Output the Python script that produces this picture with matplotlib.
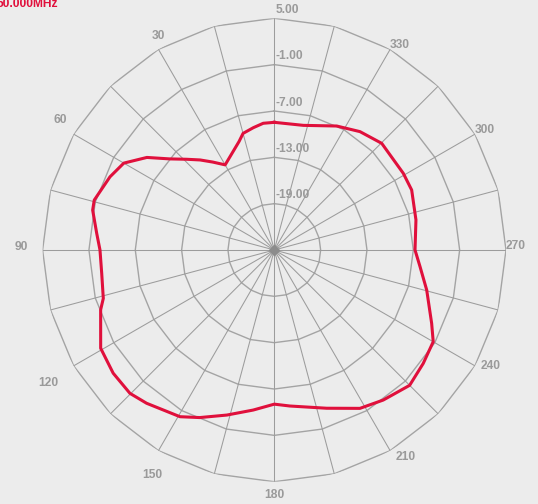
import numpy as np
import matplotlib
matplotlib.use("Agg")
import matplotlib.pyplot as plt

# ---- data ----
angles_deg = [0, 5, 9.7, 15, 18, 30, 35, 39.5, 44, 49, 54, 60, 66, 74.5, 77.6, 84.6, 90,
              97.7, 105.8, 109, 119.5, 127.4, 134.8, 140.2, 150.5, 156, 164, 172.5, 180,
              185.7, 198.3, 208.4, 216, 225, 232.7, 240, 245, 255.3, 263.5, 270,
              282, 293.6, 300.7, 314.8, 324.1, 333.3, 346.9, 360]
gain_db = [-8.47, -8.53, -8.93, -9.37, -10.23, -12.27, -11.10, -9.89, -8.67, -7.02, -4.61, -2.50,
           -1.71, -0.81, -0.92, -1.90, -2.43,
           -2.45, -1.99, -1.22, 0.83, 1.26, 1.34, 0.83, -0.20, -1.25, -2.77, -4.10, -5.04,
           -4.70, -3.42, -1.69, -0.99, -0.22, -0.76, -1.24, -2.52, -4.60, -6.01, -6.78,
           -6.25, -5.59, -5.57, -5.40, -6.08, -7.03, -8.43, -8.47]
ring_values = [-19, -13, -7, -1, 5]
ring_labels = ["-19.00", "-13.00", "-7.00", "-1.00", "5.00"]
angle_ticks = [30, 60, 90, 120, 150, 180, 210, 240, 270, 300, 330]
angle_labels = ["30", "60", "90", "120", "150", "180", "210", "240", "270", "300", "330"]
r_min, r_max = -25, 5
title = "50.000MHz"

# ---- styling ----
bg = "#ececec"
grid_c = "#a4a4a4"
label_c = "#9a9a9a"
curve_c = "#e0103c"
font = "Liberation Sans"
fs = 8.64

W, H = 538, 504
fig = plt.figure(figsize=(W / 100, H / 100), dpi=100, facecolor=bg)
cx, cy, R = 274.3, 250.0, 231.7
ax = fig.add_axes([(cx - R) / W, (H - cy - R) / H, 2 * R / W, 2 * R / H], projection="polar")
ax.set_facecolor("none")
ax.set_theta_zero_location("N")
ax.set_theta_direction(1)
ax.set_rlim(r_min, r_max)
ax.grid(False)
ax.spines["polar"].set_visible(False)
ax.set_xticks([])
ax.set_yticks([])

# polygon rings
spoke_deg = np.arange(0, 360, 15)
poly_t = np.deg2rad(np.append(spoke_deg, 360))
for rv in ring_values:
    ax.plot(poly_t, np.full_like(poly_t, rv), color=grid_c, lw=1.0, zorder=1)
# spokes
for a in spoke_deg:
    ax.plot([np.deg2rad(a)] * 2, [r_min, r_max], color="#9c9c9c", lw=0.75, zorder=1)
# center diamond
ax.plot([0], [r_min], marker="D", ms=5, color="#8c8c8c", mec="#8c8c8c", zorder=2)

# curve
ax.plot(np.deg2rad(angles_deg), gain_db, color=curve_c, lw=2.2, zorder=3,
        solid_joinstyle="round")

# radial labels
for rv, lab in zip(ring_values, ring_labels):
    ax.annotate(lab, xy=(0, rv), xytext=(0.8, 6.1), textcoords="offset points",
                ha="left", va="center", fontsize=fs, fontweight="bold", color=label_c,
                family=font, annotation_clip=False)

# angle labels: offsets (px) from the outer vertex, right/up positive
offsets = {30: (0, 13.5), 60: (-13.3, 14.3), 90: (-21.7, 3.3), 120: (-25.7, -16.7),
           150: (-5.7, -24), 180: (0, -13.3), 210: (15.7, -6.6), 240: (15.7, 0),
           270: (10, 4.2), 300: (10, 4.5), 330: (10, 4.5)}
for a, lab in zip(angle_ticks, angle_labels):
    ox, oy = offsets[a]
    ax.annotate(lab, xy=(np.deg2rad(a), r_max), xytext=(ox * 0.72, oy * 0.72),
                textcoords="offset points", ha="center", va="center", fontsize=fs,
                fontweight="bold", color=label_c, family=font, annotation_clip=False)

fig.text(-3 / W, 1 - 6.7 / H, title, ha="left", va="baseline", fontsize=fs,
         fontweight="bold", color=curve_c, family=font)

fig.savefig("out.png", dpi=100, facecolor=bg)
